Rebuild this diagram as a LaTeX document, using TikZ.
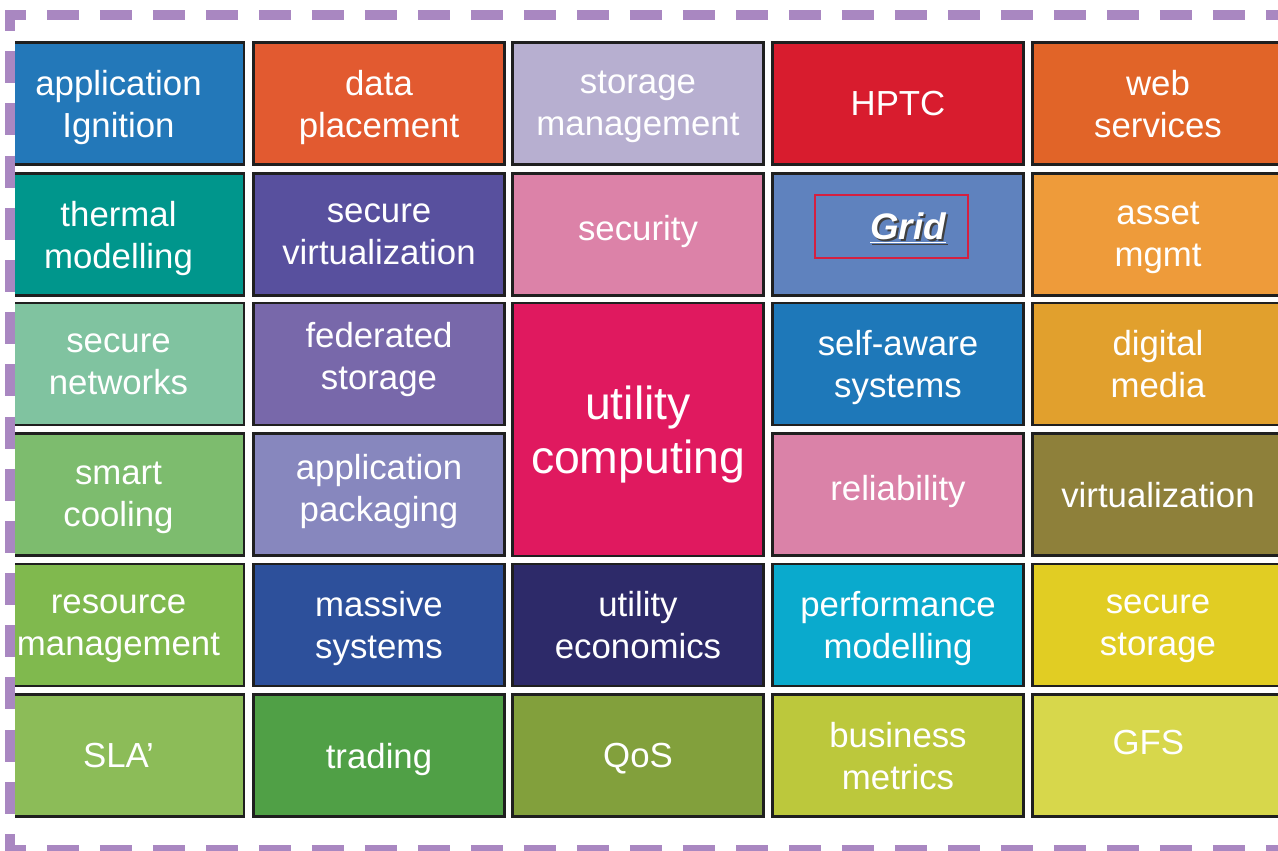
\documentclass[tikz,border=0pt]{standalone}
\usepackage{fontspec}
\setmainfont{Liberation Sans}
% tile colours, row by row
\definecolor{appblue}{HTML}{2378B9}
\definecolor{placeorange}{HTML}{E25A30}
\definecolor{storlilac}{HTML}{B7AFD0}
\definecolor{hptcred}{HTML}{D81C2E}
\definecolor{weborange}{HTML}{E16428}
\definecolor{thermteal}{HTML}{00968C}
\definecolor{virtpurple}{HTML}{58509E}
\definecolor{secpink}{HTML}{DC82A8}
\definecolor{gridblue}{HTML}{5F82BE}
\definecolor{assetorange}{HTML}{EE9B3A}
\definecolor{netmint}{HTML}{80C3A0}
\definecolor{fedpurple}{HTML}{7868AA}
\definecolor{utilmagenta}{HTML}{E0195F}
\definecolor{selfblue}{HTML}{1E78B9}
\definecolor{mediaamber}{HTML}{E1A02D}
\definecolor{coolgreen}{HTML}{7DBC6E}
\definecolor{packlilac}{HTML}{8787BE}
\definecolor{relpink}{HTML}{DA82A8}
\definecolor{virtolive}{HTML}{8E803A}
\definecolor{resgreen}{HTML}{80B94E}
\definecolor{massblue}{HTML}{2D509B}
\definecolor{econnavy}{HTML}{2D2A69}
\definecolor{perfcyan}{HTML}{0AAACD}
\definecolor{storyellow}{HTML}{E1CD23}
\definecolor{slagreen}{HTML}{8CBC58}
\definecolor{tradegreen}{HTML}{50A046}
\definecolor{qosgreen}{HTML}{82A03C}
\definecolor{metricslime}{HTML}{BCC83C}
\definecolor{gfsyellow}{HTML}{D7D74B}
\definecolor{gridred}{HTML}{D42040}
\definecolor{dashlilac}{HTML}{A987C1}
\begin{document}
\begin{tikzpicture}[x=0.02cm,y=-0.02cm,
  tile/.style={draw=black!88,line width=1.4pt,fill=#1,text=white,align=center,inner sep=0pt,text depth=0pt,
    minimum width=5.02cm,minimum height=2.44cm,font=\fontsize{19.8}{23.8}\selectfont},
  bigtile/.style={tile=#1,minimum height=5.06cm,font=\fontsize{26.4}{31}\selectfont},
  raised/.style={text depth=#1},    % lifts the text a little inside its tile
  gridword/.style={inner sep=0pt,font=\fontsize{21}{25}\selectfont\bfseries\itshape},
  rim/.style={dashlilac,line width=5.67pt,dash pattern=on 0.64cm off #1,dash phase=0.22cm}]
\useasboundingbox (0,0) rectangle (1278,850);
\begin{scope}\clip (15,0) rectangle (1278,850);   % the outer columns run off the page
% first row
\node[tile=appblue] (appign) at (118.5,103.5) {application\\Ignition};
\node[tile=placeorange] (dataplace) at (379,103.5) {data\\placement};
\node[tile=storlilac] (stormgmt) at (638,103.5) {storage\\management};
\node[tile=hptcred] (hptc) at (898,103.5) {HPTC};
\node[tile=weborange] (websvc) at (1158,103.5) {web\\services};
% second row
\node[tile=thermteal] (thermal) at (118.5,234.5) {thermal\\modelling};
\node[tile=virtpurple] (securevirt) at (379,234.5) {secure\\virtualization};
\node[tile=secpink,raised=7.6pt] (security) at (638,234.5) {security};
\node[tile=gridblue] (grid) at (898,234.5) {};
\node[tile=assetorange] (asset) at (1158,234.5) {asset\\mgmt};
% third and fourth row, utility computing spans both
\node[tile=netmint] (securenet) at (118.5,364) {secure\\networks};
\node[tile=fedpurple,raised=9pt] (fedstor) at (379,364) {federated\\storage};
\node[bigtile=utilmagenta] (utilcomp) at (638,429.5) {utility\\computing};
\node[tile=selfblue] (selfaware) at (898,364) {self-aware\\systems};
\node[tile=mediaamber] (digmedia) at (1158,364) {digital\\media};
\node[tile=coolgreen] (smartcool) at (118.5,494.5) {smart\\cooling};
\node[tile=packlilac,raised=7.6pt] (apppack) at (379,494.5) {application\\packaging};
\node[tile=relpink,raised=7.6pt] (reliab) at (898,494.5) {reliability};
\node[tile=virtolive] (virt) at (1158,494.5) {virtualization};
% fifth row
\node[tile=resgreen] (resmgmt) at (118.5,625) {resource\\management};
\node[tile=massblue] (massive) at (379,625) {massive\\systems};
\node[tile=econnavy] (utilecon) at (638,625) {utility\\economics};
\node[tile=perfcyan] (perfmod) at (898,625) {performance\\modelling};
\node[tile=storyellow] (securestor) at (1158,625) {secure\\storage};
% last row
\node[tile=slagreen] (sla) at (118.5,755.5) {SLA’};
\node[tile=tradegreen] (trading) at (379,755.5) {trading};
\node[tile=qosgreen] (qos) at (638,755.5) {QoS};
\node[tile=metricslime] (bizmetrics) at (898,755.5) {business\\metrics};
\node[tile=gfsyellow,raised=14.7pt] (gfs) at (1158,755.5) {GFS\hspace*{11pt}};
\end{scope}
% the Grid label in its red frame
\node[draw=gridred,line width=1.2pt,minimum width=3.06cm,minimum height=1.26cm] (gridbox) at (891.5,226.5) {};
\node[gridword,text=black!75] (gridshade) at (910,230) {\underline{Grid}};
\node[gridword,text=white] (gridtext) at (908,228) {\underline{Grid}};
% dashed lilac rim
\draw[rim=0.42cm] (5,15) -- (1290,15);
\draw[rim=0.404cm] (10,10) -- (10,855);
\draw[rim=0.42cm] (5,850) -- (1290,850);
\end{tikzpicture}
\end{document}
